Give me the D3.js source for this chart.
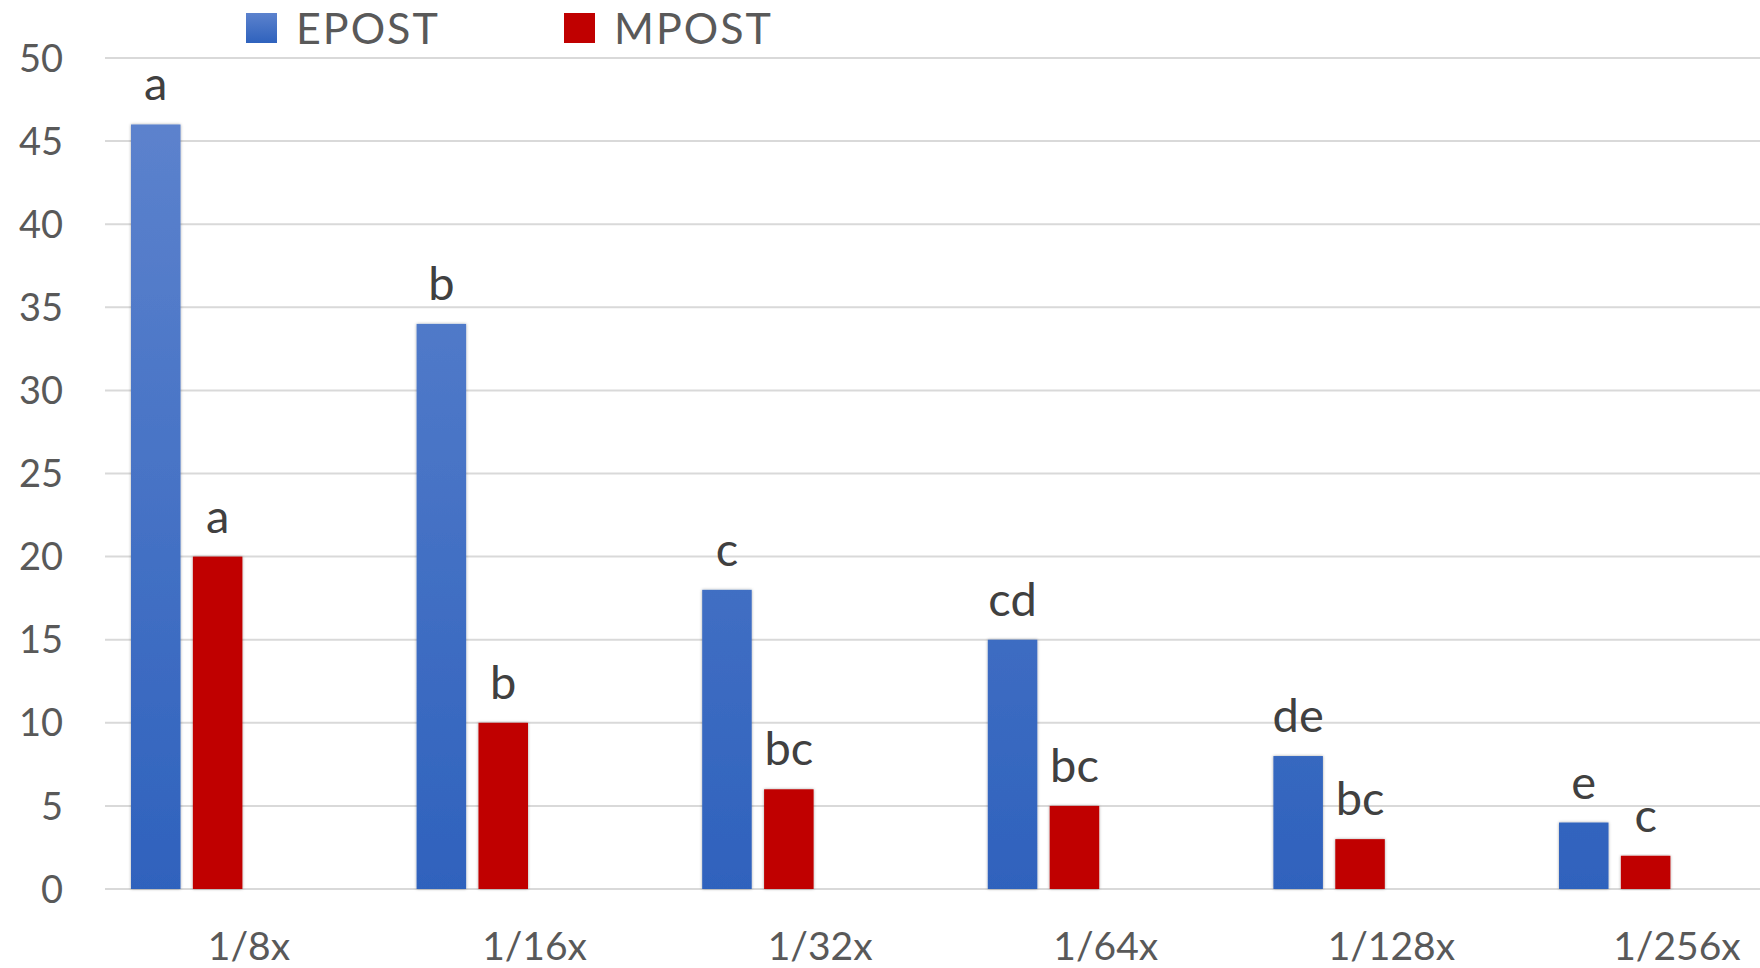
<!DOCTYPE html>
<html>
<head>
<meta charset="utf-8">
<script src="https://cdn.jsdelivr.net/npm/d3@7"></script>
<style>
  html, body { margin: 0; padding: 0; background: #fff; }
  svg { display: block; font-family: Lato, "Open Sans", sans-serif; }
</style>
</head>
<body>
<svg id="chart" width="1760" height="968"></svg>
<script>
const categories = ["1/8x", "1/16x", "1/32x", "1/64x", "1/128x", "1/256x"];
const seriesNames = ["EPOST", "MPOST"];
const epost = [46, 34, 18, 15, 8, 4];
const mpost = [20, 10, 6, 5, 3, 2];
const epostLetters = ["a", "b", "c", "cd", "de", "e"];
const mpostLetters = ["a", "b", "bc", "bc", "bc", "c"];
const yTicks = [0, 5, 10, 15, 20, 25, 30, 35, 40, 45, 50];

const seriesValues = { EPOST: epost, MPOST: mpost };
const seriesLetters = { EPOST: epostLetters, MPOST: mpostLetters };

const svg = d3.select("#chart");
const W = 1760;
const plotLeft = 106.2, bandW = 285.6;

const y = d3.scaleLinear().domain([0, 50]).range([889, 58]);
const x = d3.scaleBand().domain(categories)
  .range([plotLeft, plotLeft + bandW * categories.length]).padding(0);
const xs = d3.scaleBand().domain(seriesNames).range([-118, -6.6]).paddingInner(0.2).paddingOuter(0);

const defs = svg.append("defs");
const grad = defs.append("linearGradient").attr("id", "blueGrad")
  .attr("gradientUnits", "userSpaceOnUse")
  .attr("x1", 0).attr("x2", 0).attr("y1", y(46)).attr("y2", y(0));
grad.append("stop").attr("offset", "0%").attr("stop-color", "#5c82cd");
grad.append("stop").attr("offset", "100%").attr("stop-color", "#2f62bd");
const gradL = defs.append("linearGradient").attr("id", "blueGradLeg")
  .attr("x1", 0).attr("x2", 0).attr("y1", 0).attr("y2", 1);
gradL.append("stop").attr("offset", "0%").attr("stop-color", "#5c82cd");
gradL.append("stop").attr("offset", "100%").attr("stop-color", "#2f62bd");
const shadow = defs.append("filter").attr("id", "shadow")
  .attr("x", "-20%").attr("y", "-5%").attr("width", "140%").attr("height", "110%");
shadow.append("feDropShadow").attr("dx", 0).attr("dy", 0).attr("stdDeviation", 1.5)
  .attr("flood-color", "#000").attr("flood-opacity", 0.35);

const fills = { EPOST: "url(#blueGrad)", MPOST: "#c00000" };

// gridlines
svg.append("g").selectAll("line").data(yTicks).join("line")
  .attr("x1", 105).attr("x2", W)
  .attr("y1", d => y(d)).attr("y2", d => y(d))
  .attr("stroke", "#d9d9d9").attr("stroke-width", 2);

// y tick labels
svg.append("g").selectAll("text").data(yTicks).join("text")
  .attr("x", 63).attr("y", d => y(d)).attr("dy", "0.36em")
  .attr("text-anchor", "end").attr("font-size", 38).attr("fill", "#595959")
  .text(d => d);

// x tick labels
svg.append("g").selectAll("text").data(categories).join("text")
  .attr("x", d => x(d) + x.bandwidth() / 2).attr("y", 960)
  .attr("text-anchor", "middle").attr("font-size", 39).attr("fill", "#595959")
  .text(d => d);

// bars
const groups = svg.append("g").selectAll("g").data(categories).join("g")
  .attr("transform", d => `translate(${x(d) + x.bandwidth() / 2},0)`);

seriesNames.forEach(s => {
  groups.append("rect")
    .attr("x", xs(s)).attr("width", xs.bandwidth())
    .attr("y", (d, i) => y(seriesValues[s][i]))
    .attr("height", (d, i) => y(0) - y(seriesValues[s][i]))
    .attr("fill", fills[s]).attr("filter", "url(#shadow)");
  groups.append("text")
    .attr("x", xs(s) + xs.bandwidth() / 2)
    .attr("y", (d, i) => y(seriesValues[s][i]) - 24)
    .attr("text-anchor", "middle").attr("font-size", 47).attr("fill", "#404040")
    .text((d, i) => seriesLetters[s][i]);
});

// legend
const legendPos = { EPOST: 246, MPOST: 564 };
const legFill = { EPOST: "url(#blueGradLeg)", MPOST: "#c00000" };
const leg = svg.append("g").selectAll("g").data(seriesNames).join("g")
  .attr("transform", d => `translate(${legendPos[d]},0)`);
leg.append("rect").attr("x", 0).attr("y", 13).attr("width", 31).attr("height", 30)
  .attr("fill", d => legFill[d]);
leg.append("text").attr("x", 50).attr("y", 44)
  .attr("font-size", 43).attr("letter-spacing", 2).attr("fill", "#595959").text(d => d);
</script>
</body>
</html>
